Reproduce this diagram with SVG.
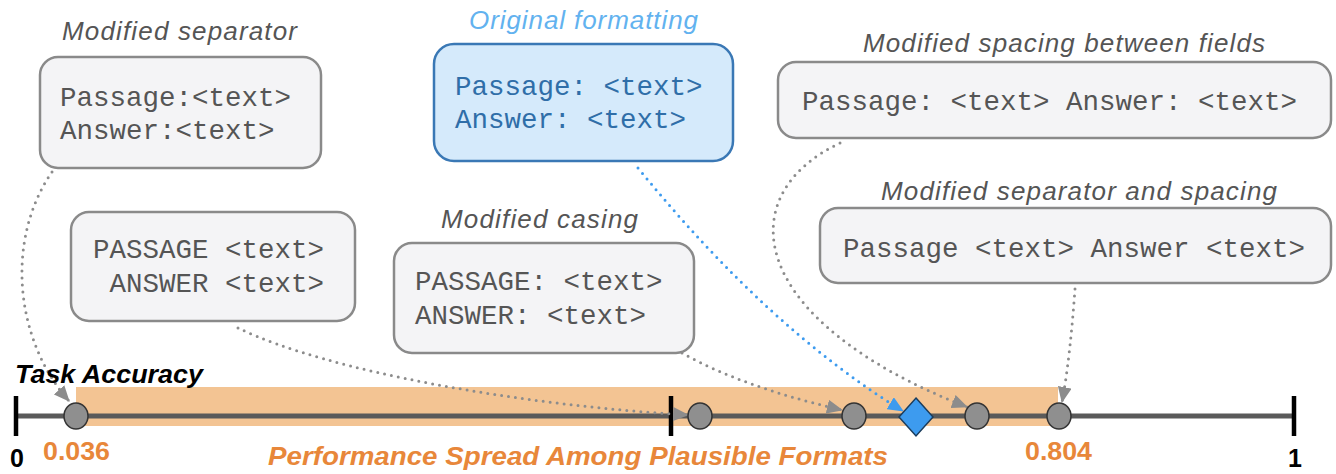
<svg xmlns="http://www.w3.org/2000/svg" width="1336" height="474" viewBox="0 0 1336 474">
<style>
.box{fill:#f4f4f6;stroke:#8a8a8a;stroke-width:2.5}
.bbox{fill:#d5eafb;stroke:#3a78b5;stroke-width:2.5}
.code{font-family:"Liberation Mono","Courier New",monospace;font-size:27.5px;fill:#555}
.bcode{font-family:"Liberation Mono","Courier New",monospace;font-size:27.5px;fill:#2f6ea8}
.title{font-family:"Liberation Sans",Arial,sans-serif;font-style:italic;font-size:26px;fill:#555}
.btitle{font-family:"Liberation Sans",Arial,sans-serif;font-style:italic;font-size:26px;fill:#62b2ef}
.conn{fill:none;stroke:#8c8c8c;stroke-width:3;stroke-linecap:round;stroke-dasharray:0 7}
.bconn{fill:none;stroke:#3d9bef;stroke-width:3;stroke-linecap:round;stroke-dasharray:0 7}
.pt{fill:#8f8f8f;stroke:#333;stroke-width:1.5}
.tick{stroke:#000;stroke-width:4.5}
.lbl{font-family:"Liberation Sans",Arial,sans-serif;font-weight:bold;font-size:25px}
.org{fill:#e8873a}
</style>
<defs>
<marker id="ag" markerUnits="userSpaceOnUse" markerWidth="16" markerHeight="14" refX="15" refY="7" orient="auto">
<path d="M0,0 L16,7 L0,14 z" fill="#8c8c8c"/>
</marker>
<marker id="ab" markerUnits="userSpaceOnUse" markerWidth="16" markerHeight="14" refX="15" refY="7" orient="auto">
<path d="M0,0 L16,7 L0,14 z" fill="#3d9bef"/>
</marker>
</defs>

<g id="axis">
<rect x="76" y="387" width="982" height="39" fill="#f3c493"/>
<line x1="15" y1="416" x2="1294" y2="416" stroke="#5a5a5a" stroke-width="5"/>
<line class="tick" x1="16" y1="396" x2="16" y2="436"/>
<line class="tick" x1="671" y1="396" x2="671" y2="436"/>
<line class="tick" x1="1294" y1="396" x2="1294" y2="436"/>
</g>

<g id="connectors">
<path class="conn" d="M52,172 C5,240 15,340 69,401" marker-end="url(#ag)"/>
<path class="conn" d="M238,328 C330,372 520,405 688,415" marker-end="url(#ag)"/>
<path class="conn" d="M682,353 C730,380 790,398 842,410" marker-end="url(#ag)"/>
<path class="bconn" d="M638,168 Q770,330 903,411" marker-end="url(#ab)"/>
<path class="conn" d="M840,143 C730,195 745,320 967,407" marker-end="url(#ag)"/>
<path class="conn" d="M1075,289 C1072,330 1068,370 1062,402" marker-end="url(#ag)"/>
</g>

<g id="points">
<ellipse class="pt" cx="76" cy="416" rx="12" ry="13"/>
<ellipse class="pt" cx="700" cy="416" rx="12" ry="13"/>
<ellipse class="pt" cx="854" cy="416" rx="12" ry="13"/>
<ellipse class="pt" cx="977" cy="416" rx="12" ry="13"/>
<ellipse class="pt" cx="1059" cy="416" rx="12" ry="13"/>
<path d="M916,398 L933,417 L916,436 L899,417 z" fill="#3d9bef" stroke="#1c3d5c" stroke-width="1.5"/>
</g>

<g id="labels">
<text class="lbl" x="15" y="383" font-style="italic" fill="#000" textLength="188" lengthAdjust="spacingAndGlyphs">Task Accuracy</text>
<text class="lbl org" x="43" y="460" textLength="67" lengthAdjust="spacingAndGlyphs">0.036</text>
<text class="lbl org" x="1025" y="460" textLength="67" lengthAdjust="spacingAndGlyphs">0.804</text>
<text class="lbl" x="10" y="467" font-size="23" fill="#000">0</text>
<text class="lbl" x="1288" y="467" font-size="23" fill="#000">1</text>
<text class="lbl org" x="268" y="465" font-style="italic" textLength="620" lengthAdjust="spacingAndGlyphs">Performance Spread Among Plausible Formats</text>
</g>

<g id="node-modified-separator">
<text class="title" x="62" y="40" textLength="235">Modified separator</text>
<rect class="box" x="40" y="57" width="281" height="111" rx="18"/>
<text class="code" x="60" y="106">Passage:&lt;text&gt;</text>
<text class="code" x="60" y="139">Answer:&lt;text&gt;</text>
</g>

<g id="node-original">
<text class="btitle" x="469" y="29" textLength="229">Original formatting</text>
<rect class="bbox" x="434" y="44" width="299" height="117" rx="20"/>
<text class="bcode" x="455" y="95">Passage: &lt;text&gt;</text>
<text class="bcode" x="455" y="128">Answer: &lt;text&gt;</text>
</g>

<g id="node-spacing-fields">
<text class="title" x="863" y="52" textLength="402">Modified spacing between fields</text>
<rect class="box" x="778" y="62" width="553" height="76" rx="18"/>
<text class="code" x="802" y="110">Passage: &lt;text&gt; Answer: &lt;text&gt;</text>
</g>

<g id="node-separator-spacing">
<text class="title" x="881" y="200" textLength="396">Modified separator and spacing</text>
<rect class="box" x="820" y="208" width="511" height="75" rx="18"/>
<text class="code" x="843" y="257">Passage &lt;text&gt; Answer &lt;text&gt;</text>
</g>

<g id="node-upper-nosep">
<rect class="box" x="71" y="212" width="284" height="109" rx="18"/>
<text class="code" x="93" y="258">PASSAGE &lt;text&gt;</text>
<text class="code" x="109.5" y="292">ANSWER &lt;text&gt;</text>
</g>

<g id="node-casing">
<text class="title" x="441" y="228" textLength="197">Modified casing</text>
<rect class="box" x="394" y="243" width="300" height="110" rx="18"/>
<text class="code" x="415" y="290">PASSAGE: &lt;text&gt;</text>
<text class="code" x="415" y="324">ANSWER: &lt;text&gt;</text>
</g>
</svg>
